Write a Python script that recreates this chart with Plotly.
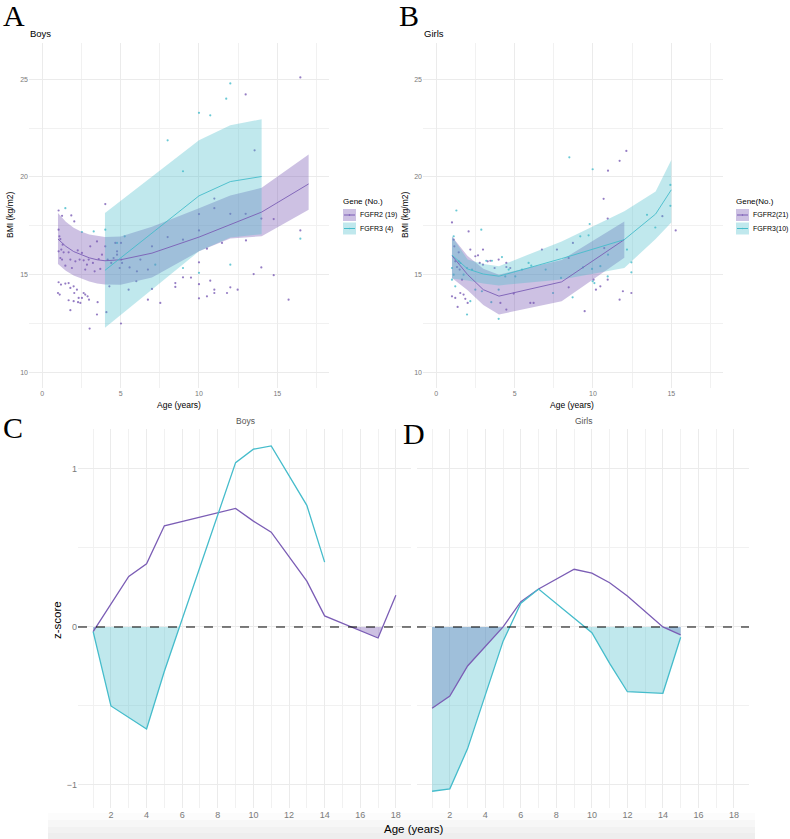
import plotly.graph_objects as go
import numpy as np

# ---------------- DATA ----------------
# Panel A (Boys BMI) — FGFR2 scatter
boys_fgfr2_age = [1.04,1.26,1.85,2.04,1.04,1.09,1.15,1.30,1.21,1.36,1.04,1.15,1.26,1.47,1.68,1.79,1.89,2.11,2.26,2.38,2.53,2.64,2.74,2.85,2.96,3.06,3.23,3.34,3.49,3.60,3.70,3.81,4.02,4.17,4.40,4.55,4.77,4.94,5.02,5.09,
                  1.04,1.19,1.11,1.00,1.47,1.68,1.79,2.00,2.04,2.21,2.32,2.43,2.53,2.64,2.74,2.89,2.98,1.68,1.79,2.00,2.28,3.02,3.49,3.53,4.09,4.28,5.02,5.51,6.00,6.74,7.00,7.53,8.49,8.49,8.98,9.49,10.0,10.0,10.51,10.72,10.98,10.98,11.79,12.0,12.47,13.49,13.98,14.77,15.72,
                  4.02,4.66,4.77,5.04,5.57,6.04,6.26,6.74,7.00,8.00,8.98,10.0,10.0,10.0,10.51,10.98,11.47,12.0,13.0,13.98,14.77,16.47,
                  12.98,16.47,13.55,10.98,12.98]
boys_fgfr2_bmi = [18.28,18.01,18.03,17.72,17.30,16.96,16.82,16.53,16.28,16.14,16.19,15.85,15.77,15.46,16.14,15.77,15.34,15.68,16.24,15.77,16.11,15.73,15.26,15.51,15.77,16.45,15.60,15.17,16.70,15.80,15.29,16.02,16.45,15.77,15.60,15.85,16.02,15.34,16.62,15.60,
                  14.61,14.49,13.98,14.06,14.54,14.57,14.32,14.40,14.06,14.23,13.81,13.55,13.81,14.06,13.98,13.89,13.72,13.69,13.18,13.64,13.59,12.24,12.96,13.59,13.08,14.40,12.50,14.23,14.66,13.72,14.27,13.55,14.57,14.37,14.86,14.85,14.51,13.79,13.89,14.69,14.23,14.06,14.06,14.35,14.23,15.03,15.37,14.97,13.72,
                  18.61,16.62,16.19,15.77,15.37,15.17,15.77,15.26,16.45,16.92,16.79,18.10,17.26,15.63,16.33,18.40,16.62,18.11,16.75,17.87,17.84,17.26,
                  24.22,25.09,21.36,18.89,18.11]
# Panel A — FGFR3 scatter
boys_fgfr3_age = [1.47,2.53,3.28,4.02,4.77,5.26,7.21,8.98,10.0,12.0,16.47,8.0,8.98,10.0,10.72,11.74,12.0]
boys_fgfr3_bmi = [18.40,17.18,17.21,17.30,16.62,16.96,15.51,15.34,15.09,15.51,16.84,21.87,20.29,23.28,23.15,24.0,24.78]

# Panel A — group means and ribbons
boys_fgfr2_mage = [1, 1.5, 2, 2.5, 3, 3.5, 4, 5, 7, 10, 12, 14, 17]
boys_fgfr2_mean = [16.82, 16.45, 16.18, 16.0, 15.86, 15.76, 15.71, 15.76, 16.1, 16.92, 17.55, 18.2, 19.64]
boys_fgfr2_upr  = [18.15, 17.7, 17.4, 17.2, 17.05, 16.97, 16.92, 16.95, 17.45, 18.4, 19.05, 19.44, 21.14]
boys_fgfr2_lwr  = [15.55, 15.2, 14.95, 14.78, 14.65, 14.55, 14.49, 14.48, 14.85, 16.19, 16.85, 16.96, 18.32]

boys_fgfr3_mage = [4, 10, 12, 14]
boys_fgfr3_mean = [15.22, 19.03, 19.76, 20.02]
boys_fgfr3_upr  = [18.15, 21.88, 22.64, 22.95]
boys_fgfr3_lwr  = [12.28, 16.19, 16.9, 17.07]

# Panel B (Girls BMI) — scatter
girls_fgfr2_age = [10.96,11.70,12.13,1.0,1.11,1.15,1.43,1.21,1.32,1.49,1.64,1.0,1.21,1.36,1.53,1.74,1.85,2.0,2.06,2.17,2.49,2.66,2.77,2.98,2.98,3.28,3.45,3.72,3.98,4.47,4.47,4.72,4.09,4.47,4.94,6.0,6.21,6.74,7.70,8.45,8.45,8.72,9.47,10.04,10.19,10.47,10.68,10.72,10.94,10.94,11.70,11.91,12.45,14.43,15.28]
girls_fgfr2_bmi = [20.32,20.82,21.33,17.67,16.79,16.45,16.14,15.68,15.39,15.26,14.74,13.89,13.81,13.35,14.06,13.98,13.76,13.55,17.21,16.28,15.94,15.99,15.60,16.28,15.51,15.68,15.71,15.34,15.77,15.60,15.39,15.34,13.55,13.21,14.03,13.55,13.55,16.28,16.28,15.85,14.35,16.62,13.13,14.74,14.23,14.40,18.88,16.36,17.87,14.74,13.72,14.15,14.06,17.99,17.26]
girls_fgfr3_age = [8.49,9.98,1.28,1.11,1.0,1.11,1.0,1.43,1.21,1.53,1.74,1.96,2.28,2.49,1.96,2.17,2.87,2.91,3.19,3.51,3.55,3.98,3.98,4.19,4.40,4.62,5.04,5.47,5.89,6.06,6.98,7.45,7.96,8.70,9.36,9.94,9.98,10.09,10.47,10.96,10.94,12.17,12.45,12.45,13.45,13.98,14.94,14.94,9.19,9.72,9.79]
girls_fgfr3_bmi = [21.0,20.39,18.28,16.96,15.34,15.0,14.74,15.68,14.40,15.60,15.0,15.34,15.26,14.23,12.96,13.64,17.30,14.15,15.71,13.59,15.71,14.23,12.74,15.90,14.91,15.26,14.91,15.26,15.60,15.46,15.26,14.06,14.83,13.84,15.37,15.29,14.66,14.57,15.43,16.02,14.91,16.28,15.63,15.12,18.06,17.41,19.59,18.52,16.96,17.01,17.59]

girls_fgfr2_mage = [1, 2, 3, 4, 8, 12]
girls_fgfr2_mean = [15.97, 15.0, 14.23, 13.9, 14.63, 16.79]
girls_fgfr2_upr  = [16.95, 15.95, 15.3, 15.0, 15.75, 17.72]
girls_fgfr2_lwr  = [14.83, 14.2, 13.45, 12.96, 13.64, 15.86]

girls_fgfr3_mage = [1, 2, 3, 4, 8, 12, 14, 15]
girls_fgfr3_mean = [16.0, 15.29, 15.03, 14.92, 15.82, 16.79, 18.1, 19.34]
girls_fgfr3_upr  = [16.95, 15.77, 15.55, 15.43, 16.7, 18.24, 19.25, 20.87]
girls_fgfr3_lwr  = [14.8, 14.7, 14.55, 14.45, 14.75, 15.34, 16.82, 17.67]

# Panel C (Boys z-score)
c_fgfr2_age = [1, 3, 4, 5, 9, 10, 11, 13, 14, 17, 18]
c_fgfr2_z   = [-0.03, 0.32, 0.40, 0.64, 0.75, 0.67, 0.60, 0.29, 0.07, -0.07, 0.20]
c_fgfr3_age = [1, 2, 4, 5, 9, 10, 11, 13, 14]
c_fgfr3_z   = [-0.03, -0.50, -0.646, -0.28, 1.04, 1.125, 1.146, 0.77, 0.41]

# Panel D (Girls z-score)
d_fgfr2_age = [1, 2, 3, 4, 5, 6, 7, 9, 10, 11, 12, 14, 15]
d_fgfr2_z   = [-0.515, -0.437, -0.247, -0.125, 0.0, 0.16, 0.24, 0.365, 0.34, 0.28, 0.196, 0.0, -0.05]
d_fgfr3_age = [1, 2, 3, 4, 5, 6, 7, 10, 11, 12, 14, 15]
d_fgfr3_z   = [-1.04, -1.025, -0.77, -0.43, -0.09, 0.15, 0.24, -0.036, -0.23, -0.41, -0.42, -0.065]

legend_a = ["FGFR2 (19)", "FGFR3 (4)"]
legend_b = ["FGFR2(21)", "FGFR3(10)"]

# ---------------- STYLE ----------------
PURPLE = "#7B5DB5"
CYAN = "#45BCCB"
PURPLE_FILL = "rgba(123,93,181,0.38)"
CYAN_FILL = "rgba(69,188,203,0.34)"
SANS = "Liberation Sans, Arial, sans-serif"
SERIF = "Liberation Serif, Times New Roman, serif"
W, H = 790, 839

def px(p):
    return p / W

def py(p):
    return 1 - p / H

fig = go.Figure()

def ribbon(xa, ya, ages, lwr, upr, fillcolor):
    fig.add_trace(go.Scatter(x=list(ages) + list(ages)[::-1], y=list(upr) + list(lwr)[::-1],
                             fill="toself", fillcolor=fillcolor, mode="lines", line=dict(width=0),
                             xaxis=xa, yaxis=ya, showlegend=False, hoverinfo="skip"))

def points(xa, ya, x, y, color):
    fig.add_trace(go.Scatter(x=x, y=y, mode="markers", marker=dict(size=2.2, color=color, opacity=0.8),
                             xaxis=xa, yaxis=ya, showlegend=False, hoverinfo="skip"))

def line(xa, ya, x, y, color, width=1.0):
    fig.add_trace(go.Scatter(x=x, y=y, mode="lines", line=dict(color=color, width=width),
                             xaxis=xa, yaxis=ya, showlegend=False, hoverinfo="skip"))

def neg_area(xa, ya, x, z, fillcolor):
    xs, zs = [], []
    for i in range(len(x)):
        if i > 0 and (z[i - 1] < 0) != (z[i] < 0) and z[i - 1] != 0 and z[i] != 0:
            t = z[i - 1] / (z[i - 1] - z[i])
            xs.append(x[i - 1] + t * (x[i] - x[i - 1]))
            zs.append(0.0)
        xs.append(x[i])
        zs.append(min(z[i], 0.0))
    fig.add_trace(go.Scatter(x=xs + xs[::-1], y=zs + [0.0] * len(xs),
                             fill="toself", fillcolor=fillcolor, mode="lines", line=dict(width=0),
                             xaxis=xa, yaxis=ya, showlegend=False, hoverinfo="skip"))

# Panel A
points("x", "y", boys_fgfr2_age, boys_fgfr2_bmi, PURPLE)
points("x", "y", boys_fgfr3_age, boys_fgfr3_bmi, CYAN)
ribbon("x", "y", boys_fgfr2_mage, boys_fgfr2_lwr, boys_fgfr2_upr, PURPLE_FILL)
ribbon("x", "y", boys_fgfr3_mage, boys_fgfr3_lwr, boys_fgfr3_upr, CYAN_FILL)
line("x", "y", boys_fgfr2_mage, boys_fgfr2_mean, PURPLE, 0.9)
line("x", "y", boys_fgfr3_mage, boys_fgfr3_mean, CYAN, 0.9)

# Panel B
points("x2", "y2", girls_fgfr2_age, girls_fgfr2_bmi, PURPLE)
points("x2", "y2", girls_fgfr3_age, girls_fgfr3_bmi, CYAN)
ribbon("x2", "y2", girls_fgfr2_mage, girls_fgfr2_lwr, girls_fgfr2_upr, PURPLE_FILL)
ribbon("x2", "y2", girls_fgfr3_mage, girls_fgfr3_lwr, girls_fgfr3_upr, CYAN_FILL)
line("x2", "y2", girls_fgfr2_mage, girls_fgfr2_mean, PURPLE, 0.9)
line("x2", "y2", girls_fgfr3_mage, girls_fgfr3_mean, CYAN, 0.9)

# Panel C
neg_area("x3", "y3", c_fgfr2_age, c_fgfr2_z, PURPLE_FILL)
neg_area("x3", "y3", c_fgfr3_age, c_fgfr3_z, CYAN_FILL)
line("x3", "y3", c_fgfr2_age, c_fgfr2_z, PURPLE, 1.3)
line("x3", "y3", c_fgfr3_age, c_fgfr3_z, CYAN, 1.3)

# Panel D
neg_area("x4", "y4", d_fgfr2_age, d_fgfr2_z, PURPLE_FILL)
neg_area("x4", "y4", d_fgfr3_age, d_fgfr3_z, CYAN_FILL)
line("x4", "y4", d_fgfr2_age, d_fgfr2_z, PURPLE, 1.3)
line("x4", "y4", d_fgfr3_age, d_fgfr3_z, CYAN, 1.3)

GRID = "#ebebeb"
MINOR = "#f1f1f1"

def ax_common(**kw):
    d = dict(showline=False, zeroline=False, ticks="", showgrid=True, gridcolor=GRID, gridwidth=1)
    d.update(kw)
    return d

tick_ab = dict(size=7, color="#7a7a7a", family=SANS)
tick_cd = dict(size=9, color="#7a7a7a", family=SANS)

fig.update_layout(
    width=W, height=H, margin=dict(l=0, r=0, t=0, b=0),
    paper_bgcolor="white", plot_bgcolor="white", showlegend=False,
    font=dict(family=SANS),
    xaxis=ax_common(domain=[px(29), px(329)], range=[-0.85, 18.3], tickvals=[0, 5, 10, 15], tickfont=tick_ab,
                    minor=dict(tick0=0, dtick=2.5, showgrid=True, gridcolor=MINOR, gridwidth=1), anchor="y"),
    yaxis=ax_common(domain=[py(388), py(43)], range=[9.2, 26.85], tickvals=[10, 15, 20, 25], tickfont=tick_ab,
                    minor=dict(tick0=0, dtick=2.5, showgrid=True, gridcolor=MINOR, gridwidth=1), anchor="x"),
    xaxis2=ax_common(domain=[px(423), px(723)], range=[-0.85, 18.3], tickvals=[0, 5, 10, 15], tickfont=tick_ab,
                     minor=dict(tick0=0, dtick=2.5, showgrid=True, gridcolor=MINOR, gridwidth=1), anchor="y2"),
    yaxis2=ax_common(domain=[py(388), py(43)], range=[9.2, 26.85], tickvals=[10, 15, 20, 25], tickfont=tick_ab,
                     minor=dict(tick0=0, dtick=2.5, showgrid=True, gridcolor=MINOR, gridwidth=1), anchor="x2"),
    xaxis3=ax_common(domain=[px(78), px(411)], range=[0.15, 18.85], tickvals=[2, 4, 6, 8, 10, 12, 14, 16, 18], tickfont=tick_cd,
                     minor=dict(tick0=0, dtick=1, showgrid=True, gridcolor=MINOR, gridwidth=1), anchor="y3"),
    yaxis3=ax_common(domain=[py(808), py(429)], range=[-1.146, 1.253], tickvals=[-1, 0, 1], tickfont=tick_cd,
                     minor=dict(tick0=0, dtick=0.5, showgrid=True, gridcolor=MINOR, gridwidth=1), anchor="x3"),
    xaxis4=ax_common(domain=[px(417), px(749)], range=[0.15, 18.85], tickvals=[2, 4, 6, 8, 10, 12, 14, 16, 18], tickfont=tick_cd,
                     minor=dict(tick0=0, dtick=1, showgrid=True, gridcolor=MINOR, gridwidth=1), anchor="y4"),
    yaxis4=ax_common(domain=[py(808), py(429)], range=[-1.146, 1.253], tickvals=[-1, 0, 1], showticklabels=False,
                     minor=dict(tick0=0, dtick=0.5, showgrid=True, gridcolor=MINOR, gridwidth=1), anchor="x4"),
)

shapes = []
# dashed zero lines
for xa, ya in [("x3", "y3"), ("x4", "y4")]:
    shapes.append(dict(type="line", xref=f"{xa} domain", yref=ya, x0=0, x1=1, y0=0, y1=0,
                       line=dict(color="black", width=1.1, dash="dash"), layer="above"))

# bottom grey band
for top, col in [(813, "#fcfcfc"), (820, "#f7f7f7"), (827, "#f2f2f2"), (833, "#eeeeee")]:
    shapes.append(dict(type="rect", xref="paper", yref="paper", x0=px(48), x1=px(755), y0=0, y1=py(top),
                       fillcolor=col, line=dict(width=0), layer="below"))

annotations = []

def text(x, y, s, size, color="black", family=SANS, xanchor="center", yanchor="middle", angle=0):
    annotations.append(dict(x=px(x), y=py(y), xref="paper", yref="paper", text=s, showarrow=False,
                            font=dict(size=size, color=color, family=family), xanchor=xanchor, yanchor=yanchor,
                            textangle=angle, borderpad=0))

# legends
def legend(x0, ytitle, title, labels):
    text(x0 - 1, ytitle, title, 8, xanchor="left")
    for i, (lab, fc, lc) in enumerate(zip(labels, [PURPLE_FILL, CYAN_FILL], [PURPLE, CYAN])):
        yt, yb = 209 + i * 13.5, 221 + i * 13.5
        shapes.append(dict(type="rect", xref="paper", yref="paper", x0=px(x0), x1=px(x0 + 13),
                           y0=py(yb), y1=py(yt), fillcolor=fc, line=dict(width=0)))
        ym = (yt + yb) / 2
        shapes.append(dict(type="line", xref="paper", yref="paper", x0=px(x0 + 1), x1=px(x0 + 12),
                           y0=py(ym), y1=py(ym), line=dict(color=lc, width=1)))
        shapes.append(dict(type="circle", xref="paper", yref="paper", x0=px(x0 + 5.8), x1=px(x0 + 7.2),
                           y0=py(ym + 0.7), y1=py(ym - 0.7), fillcolor=lc, line=dict(width=0)))
        text(x0 + 16, ym, lab, 7, xanchor="left")

legend(343, 201, "Gene (No.)", legend_a)
legend(736, 201, "Gene(No.)", legend_b)

# panel titles
text(29, 34, "Boys", 9.5, xanchor="left")
text(423, 34, "Girls", 9.5, xanchor="left")
text(245, 421, "Boys", 8.5, color="#555555")
text(583, 421, "Girls", 8.5, color="#555555")

# axis titles
text(179, 405, "Age (years)", 8.5)
text(572, 405, "Age (years)", 8.5)
text(10, 215, "BMI (kg/m2)", 8.5, angle=-90)
text(405, 215, "BMI (kg/m2)", 8.5, angle=-90)
text(414, 829, "Age (years)", 11.5)
text(57, 620, "z-score", 11.5, angle=-90)

# panel letters
text(2, 16, "A", 30, family=SERIF, xanchor="left")
text(398, 16, "B", 30, family=SERIF, xanchor="left")
text(2, 427, "C", 30, family=SERIF, xanchor="left")
text(402, 433, "D", 30, family=SERIF, xanchor="left")

fig.update_layout(shapes=shapes, annotations=annotations)
fig.write_html("out.html", config={"displayModeBar": False},
               post_script="document.body.style.margin='0';document.body.style.padding='0';")
